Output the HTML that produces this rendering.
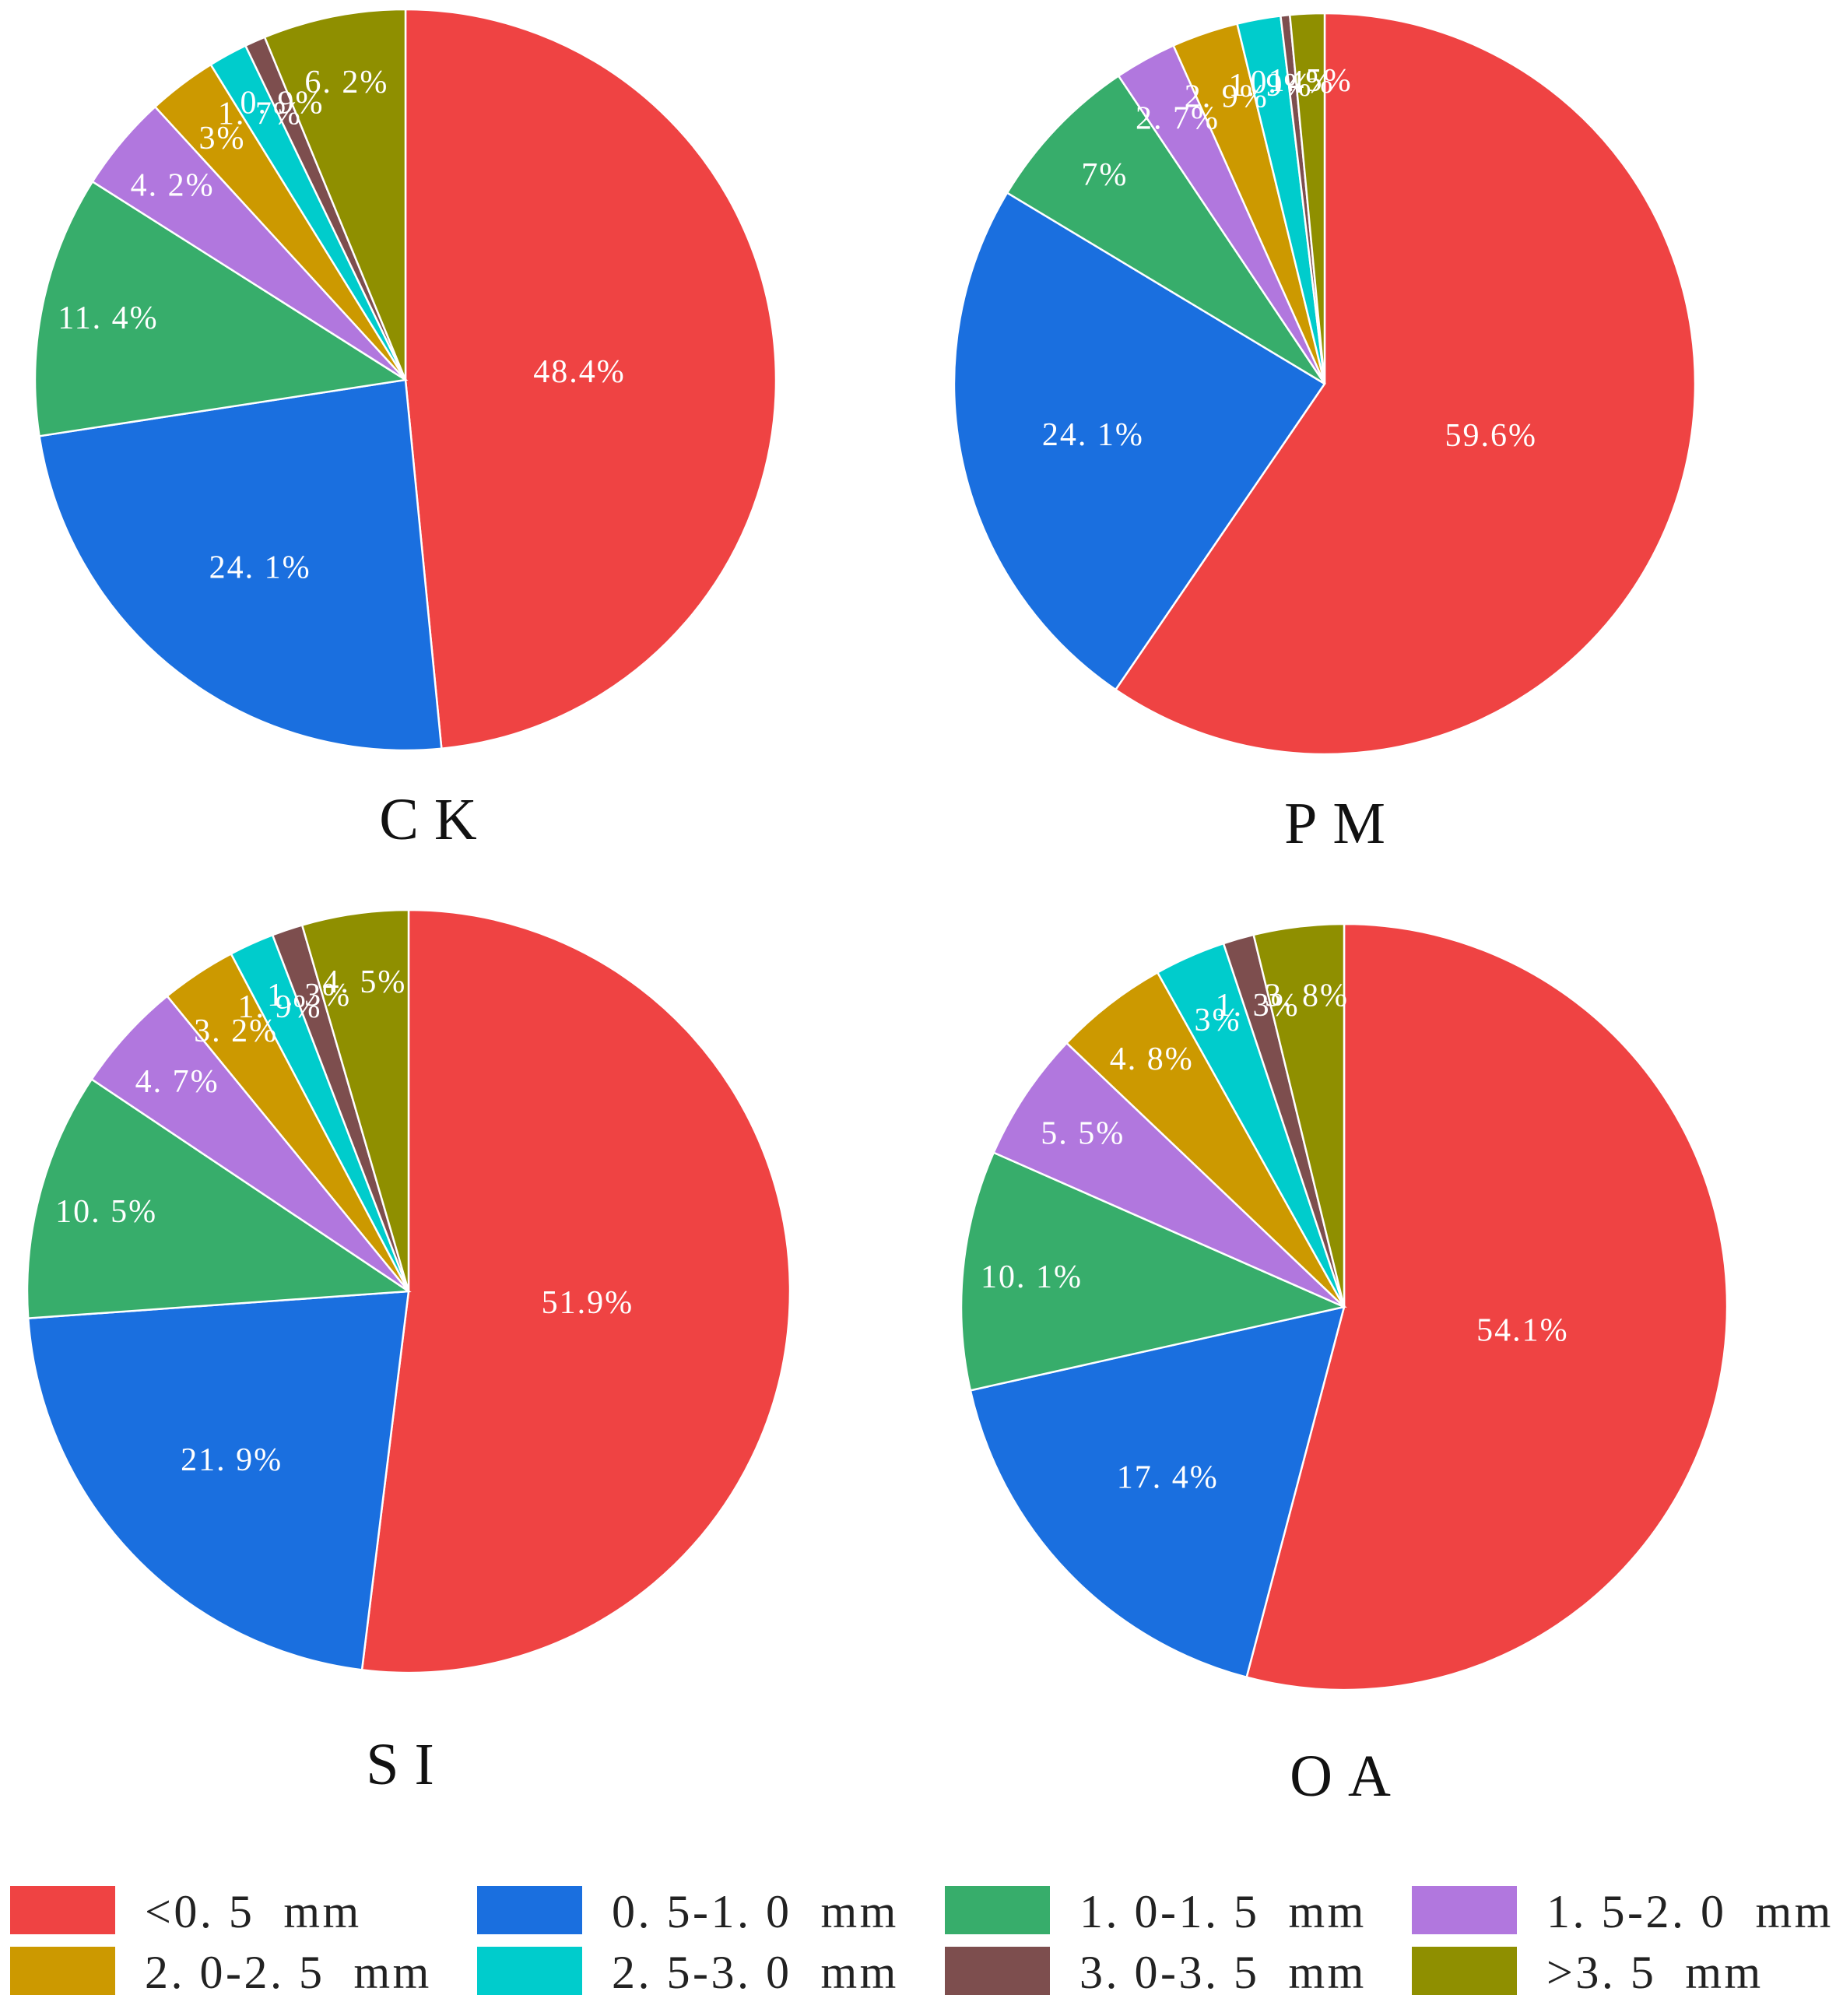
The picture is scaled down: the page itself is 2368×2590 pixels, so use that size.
<!DOCTYPE html>
<html><head><meta charset="utf-8"><style>
html,body{margin:0;padding:0;background:#fff;}
svg{display:block;}
</style></head><body>
<svg id="chart" width="2368" height="2590" viewBox="0 0 2368 2590" xmlns="http://www.w3.org/2000/svg"></svg>
<script>
const categories = ["<0. 5  mm","0. 5-1. 0  mm","1. 0-1. 5  mm","1. 5-2. 0  mm","2. 0-2. 5  mm","2. 5-3. 0  mm","3. 0-3. 5  mm",">3. 5  mm"];
const ckValues = [48.4,24.1,11.4,4.2,3,1.7,0.9,6.2];
const pmValues = [59.6,24.1,7,2.7,2.9,1.9,0.4,1.5];
const siValues = [51.9,21.9,10.5,4.7,3.2,1.9,1.3,4.5];
const oaValues = [54.1,17.4,10.1,5.5,4.8,3,1.3,3.8];
const ckLabels = ["48.4%","24. 1%","11. 4%","4. 2%","3%","1. 7%","0. 9%","6. 2%"];
const pmLabels = ["59.6%","24. 1%","7%","2. 7%","2. 9%","1. 9%","0. 4%","1. 5%"];
const siLabels = ["51.9%","21. 9%","10. 5%","4. 7%","3. 2%","1. 9%","1. 3%","4. 5%"];
const oaLabels = ["54.1%","17. 4%","10. 1%","5. 5%","4. 8%","3%","1. 3%","3. 8%"];
const colors = ["#EF4343","#1A6FDF","#37AD6B","#B177DE","#CC9900","#00CCCC","#7D4E4E","#8F8F00"];

const NS = "http://www.w3.org/2000/svg";
const svg = document.getElementById("chart");
function mk(tag, attrs){const e=document.createElementNS(NS,tag);for(const k in attrs)e.setAttribute(k,attrs[k]);return e;}

function drawPie(name, values, labels, cx, cy, r, title, tx, ty){
  const g = mk("g",{});
  
  
  svg.appendChild(g);
  const total = values.reduce((a,b)=>a+b,0);
  let a0 = 0;
  values.forEach((v,i)=>{
    const a1 = a0 + v/total*2*Math.PI;
    const x0=cx+r*Math.sin(a0), y0=cy-r*Math.cos(a0);
    const x1=cx+r*Math.sin(a1), y1=cy-r*Math.cos(a1);
    const large = (a1-a0)>Math.PI?1:0;
    const p = mk("path",{d:`M${cx},${cy} L${x0},${y0} A${r},${r} 0 ${large} 1 ${x1},${y1} Z`,fill:colors[i],stroke:"#fff","stroke-width":2.5});
    
    
    g.appendChild(p);
    a0 = a1;
  });
  a0 = 0;
  values.forEach((v,i)=>{
    const a1 = a0 + v/total*2*Math.PI;
    const m=(a0+a1)/2;
    const f = i===0?0.47:(i===1?0.64:0.82);
    const t = mk("text",{x:cx+f*r*Math.sin(m), y:cy-f*r*Math.cos(m)+14, "text-anchor":"middle", fill:"#fff", "font-size":42, "letter-spacing":"2", "font-family":"'Liberation Serif','Noto Serif CJK SC',serif"});
    t.textContent = labels[i];
    
    
    g.appendChild(t);
    a0 = a1;
  });
  const tt = mk("text",{x:tx,y:ty,"text-anchor":"middle","font-size":76,"font-family":"'Liberation Serif',serif",fill:"#111","letter-spacing":"20"});
  tt.textContent = title;
  
  
  svg.appendChild(tt);
}
drawPie("ck", ckValues, ckLabels, 521, 488, 476, "CK", 560, 1078);
drawPie("pm", pmValues, pmLabels, 1702, 493, 476, "PM", 1725, 1083);
drawPie("si", siValues, siLabels, 525, 1659, 490, "SI", 524, 2292);
drawPie("oa", oaValues, oaLabels, 1727, 1679, 492, "OA", 1732, 2307);

const legX = [13,613,1214,1814];
const legY = [2423,2501];
categories.forEach((c,i)=>{
  const x = legX[i%4], y = legY[Math.floor(i/4)];
  const g = mk("g",{});
  
  
  svg.appendChild(g);
  const rct = mk("rect",{x:x,y:y,width:135,height:62,fill:colors[i]});
  
  
  g.appendChild(rct);
  const t = mk("text",{x:x+173,y:y+53,"font-size":60,fill:"#222","letter-spacing":"3.5","font-family":"'Liberation Serif','Noto Serif CJK SC',serif"});
  t.setAttribute("xml:space","preserve");
  t.style.whiteSpace = "pre";
  t.textContent = c;
  
  
  g.appendChild(t);
});
</script>
</body></html>
